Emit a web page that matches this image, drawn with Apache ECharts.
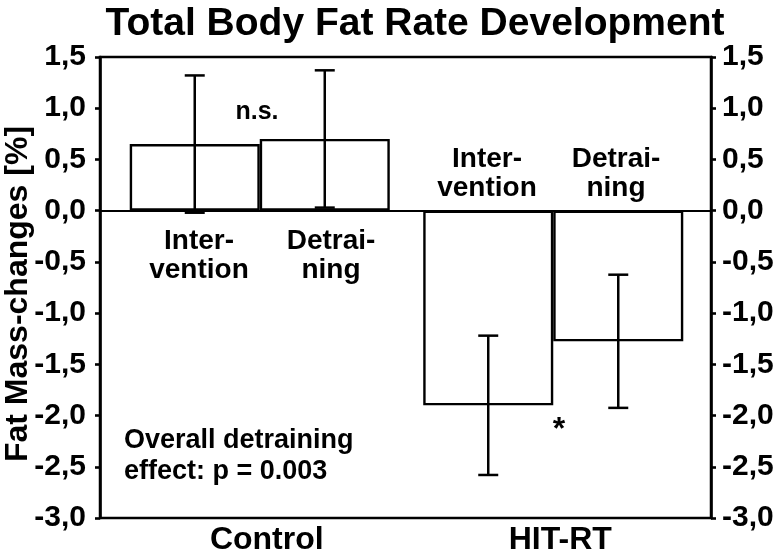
<!DOCTYPE html>
<html><head><meta charset="utf-8">
<script src="https://cdn.jsdelivr.net/npm/echarts@6/dist/echarts.min.js"></script>
<style>html,body{margin:0;padding:0;background:#fff}#c{width:784px;height:557px}</style>
</head><body><div id="c"></div>
<script>
// ---- data ----
const groups = ['Control', 'HIT-RT'];
const phases = ['Intervention', 'Detraining'];
const interventionMean = [0.65, -1.90];
const interventionErr = [0.67, 0.68];
const detrainingMean = [0.70, -1.275];
const detrainingErr = [0.67, 0.65];
const yMin = -3.0, yMax = 1.5, yStep = 0.5;

const FONT = '"Liberation Sans", Arial, Helvetica, sans-serif';
const BAR_FRAC = 0.443; // bar width as fraction of category band

function errData(means, errs) {
  return means.map((m, i) => [i, m, errs[i]]);
}
function errSeries(name, means, errs, side) {
  return {
    type: 'custom', name: name, xAxisIndex: 1, yAxisIndex: 2, z: 5,
    data: errData(means, errs),
    renderItem: function (params, api) {
      const cat = api.value(0), m = api.value(1), e = api.value(2);
      const band = api.size([1, 0])[0];
      const off = side * band * BAR_FRAC / 2;
      const top = api.coord([cat, m + e]);
      const bot = api.coord([cat, m - e]);
      const x = top[0] + off;
      const cw = 10;
      const st = { stroke: '#000', lineWidth: 2.5 };
      return { type: 'group', children: [
        { type: 'line', shape: { x1: x, y1: top[1], x2: x, y2: bot[1] }, style: st },
        { type: 'line', shape: { x1: x - cw, y1: top[1], x2: x + cw, y2: top[1] }, style: st },
        { type: 'line', shape: { x1: x - cw, y1: bot[1], x2: x + cw, y2: bot[1] }, style: st }
      ]};
    }
  };
}

const tickFmt = v => v.toFixed(1).replace('.', ',');
const yAxisBase = {
  min: yMin, max: yMax, interval: yStep, gridIndex: 0,
  axisLine: { show: true, lineStyle: { color: '#000', width: 2.6 } },
  axisTick: { show: true, inside: false, length: 5, lineStyle: { color: '#000', width: 2.6 } },
  splitLine: { show: false },
  axisLabel: { color: '#000', fontSize: 30, fontWeight: 'bold', fontFamily: FONT, formatter: tickFmt }
};

const chart = echarts.init(document.getElementById('c'));
chart.setOption({
  backgroundColor: '#fff',
  animation: false,
  title: {
    text: 'Total Body Fat Rate Development', left: 410, top: 0, textAlign: 'center',
    textStyle: { fontSize: 39, fontWeight: 'bold', fontFamily: FONT, color: '#000' }
  },
  grid: [
    { left: 100, right: 73, top: 57, bottom: 39, show: true, borderColor: '#000', borderWidth: 2.5, backgroundColor: 'transparent' },
    { left: 113, right: 84, top: 57, bottom: 39 }
  ],
  xAxis: [
    { type: 'category', gridIndex: 0, data: groups,
      axisLine: { show: true, onZero: true, lineStyle: { color: '#000', width: 2.2 } },
      axisTick: { show: false }, axisLabel: { show: false } },
    { type: 'category', gridIndex: 1, data: groups,
      axisLine: { show: false }, axisTick: { show: false },
      axisLabel: { color: '#000', fontSize: 32, fontWeight: 'bold', fontFamily: FONT, margin: 6, padding: [0, 0, 0, 14] } }
  ],
  yAxis: [
    Object.assign({}, yAxisBase, { position: 'left', axisLabel: Object.assign({}, yAxisBase.axisLabel, { margin: 14 }) }),
    Object.assign({}, yAxisBase, { position: 'right', axisLabel: Object.assign({}, yAxisBase.axisLabel, { margin: 11 }) }),
    { type: 'value', gridIndex: 1, min: yMin, max: yMax, interval: yStep, show: false }
  ],
  series: [
    { type: 'bar', name: phases[0], xAxisIndex: 1, yAxisIndex: 2, data: interventionMean,
      barWidth: (BAR_FRAC * 100) + '%', barGap: '0%',
      itemStyle: { color: '#fff', borderColor: '#000', borderWidth: 2.4 } },
    { type: 'bar', name: phases[1], xAxisIndex: 1, yAxisIndex: 2, data: detrainingMean,
      barWidth: (BAR_FRAC * 100) + '%', barGap: '0%',
      itemStyle: { color: '#fff', borderColor: '#000', borderWidth: 2.4 } },
    errSeries('Intervention error', interventionMean, interventionErr, -1),
    errSeries('Detraining error', detrainingMean, detrainingErr, 1)
  ],
  graphic: [
    { type: 'text', x: 18, y: 294, rotation: Math.PI / 2, style: { text: 'Fat Mass-changes [%]', fill: '#000', font: 'bold 32px ' + FONT, textAlign: 'center', textVerticalAlign: 'middle' } },
    { type: 'text', x: 257, y: 112, style: { text: 'n.s.', fill: '#000', font: 'bold 25px ' + FONT, textAlign: 'center', textVerticalAlign: 'middle' } },
    { type: 'text', x: 199, y: 256, style: { text: 'Inter-\nvention', fill: '#000', font: 'bold 28px ' + FONT, textAlign: 'center', textVerticalAlign: 'middle', lineHeight: 29 } },
    { type: 'text', x: 331, y: 256, style: { text: 'Detrai-\nning', fill: '#000', font: 'bold 28px ' + FONT, textAlign: 'center', textVerticalAlign: 'middle', lineHeight: 29 } },
    { type: 'text', x: 487, y: 174, style: { text: 'Inter-\nvention', fill: '#000', font: 'bold 28px ' + FONT, textAlign: 'center', textVerticalAlign: 'middle', lineHeight: 29 } },
    { type: 'text', x: 616, y: 174, style: { text: 'Detrai-\nning', fill: '#000', font: 'bold 28px ' + FONT, textAlign: 'center', textVerticalAlign: 'middle', lineHeight: 29 } },
    { type: 'text', x: 124, y: 456, style: { text: 'Overall detraining\neffect: p = 0.003', fill: '#000', font: 'bold 27px ' + FONT, textAlign: 'left', textVerticalAlign: 'middle', lineHeight: 31 } },
    { type: 'text', x: 559, y: 430, style: { text: '*', fill: '#000', font: 'bold 32px ' + FONT, textAlign: 'center', textVerticalAlign: 'middle' } }
  ]
});
</script>
</body></html>
